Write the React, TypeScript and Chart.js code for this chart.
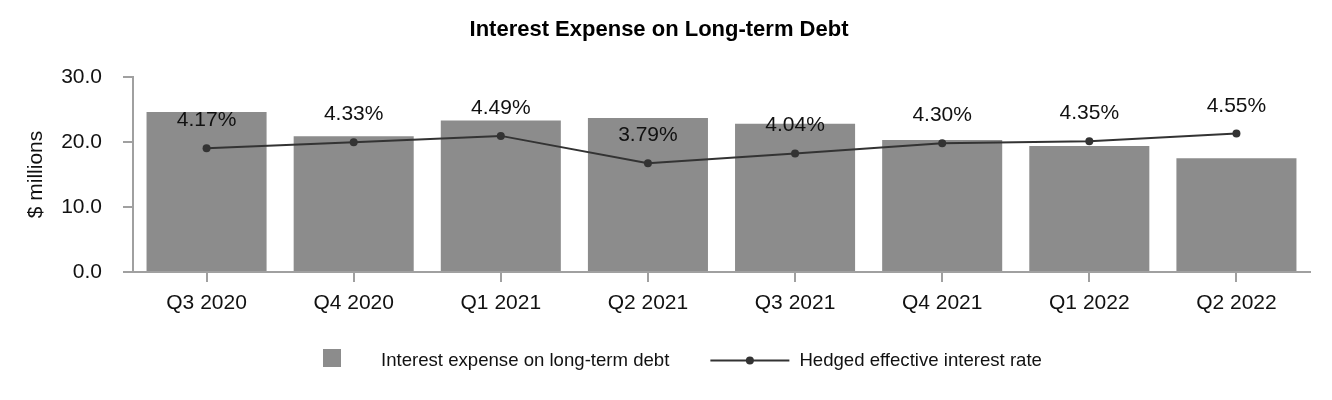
import React, { useEffect, useRef } from "react";
import { Chart, registerables } from "chart.js";

Chart.register(...registerables);

const categories = ["Q3 2020", "Q4 2020", "Q1 2021", "Q2 2021", "Q3 2021", "Q4 2021", "Q1 2022", "Q2 2022"];
const interestExpense = [24.6, 20.9, 23.3, 23.7, 22.8, 20.3, 19.4, 17.5];
const hedgedRate = [4.17, 4.33, 4.49, 3.79, 4.04, 4.3, 4.35, 4.55];
const barLabel = "Interest expense on long-term debt";
const lineLabel = "Hedged effective interest rate";
const chartTitle = "Interest Expense on Long-term Debt";
const yAxisTitle = "$ millions";

const FONT = "'Liberation Sans', Arial, Helvetica, sans-serif";
const BAR_COLOR = "#8c8c8c";
const LINE_COLOR = "#333333";
const AXIS_COLOR = "#a0a0a0";

const labelsPlugin = {
  id: "rateLabels",
  afterDatasetsDraw(chart: any) {
    const ctx = chart.ctx;
    const meta = chart.getDatasetMeta(1);
    ctx.save();
    ctx.font = `21px ${FONT}`;
    ctx.fillStyle = "#111";
    ctx.textAlign = "center";
    ctx.textBaseline = "alphabetic";
    meta.data.forEach((pt: any, i: number) => {
      ctx.fillText(`${hedgedRate[i].toFixed(2)}%`, pt.x, pt.y - 22);
    });
    ctx.restore();
  },
};

const legendPlugin = {
  id: "customLegend",
  afterDraw(chart: any) {
    const ctx = chart.ctx;
    ctx.save();
    ctx.font = `18.6px ${FONT}`;
    const w1 = ctx.measureText(barLabel).width;
    let x = chart.width / 2 - 343;
    const boxTop = chart.height - 43;
    const baseline = boxTop + 17;
    const lineY = boxTop + 11.5;
    ctx.fillStyle = BAR_COLOR;
    ctx.fillRect(x, boxTop, 18, 18);
    x += 18 + 40;
    ctx.fillStyle = "#111";
    ctx.textAlign = "left";
    ctx.textBaseline = "alphabetic";
    ctx.fillText(barLabel, x, baseline);
    x += w1 + 41;
    ctx.strokeStyle = LINE_COLOR;
    ctx.lineWidth = 2;
    ctx.beginPath();
    ctx.moveTo(x, lineY);
    ctx.lineTo(x + 79, lineY);
    ctx.stroke();
    ctx.fillStyle = LINE_COLOR;
    ctx.beginPath();
    ctx.arc(x + 39.5, lineY, 4, 0, Math.PI * 2);
    ctx.fill();
    x += 79 + 10;
    ctx.fillStyle = "#111";
    ctx.fillText(lineLabel, x, baseline);
    ctx.restore();
  },
};

export default function App() {
  const canvasRef = useRef<HTMLCanvasElement | null>(null);

  useEffect(() => {
    if (!canvasRef.current) return;
    Chart.defaults.font.family = FONT;
    const chart = new Chart(canvasRef.current, {
      type: "bar",
      data: {
        labels: categories,
        datasets: [
          {
            type: "bar",
            label: barLabel,
            data: interestExpense,
            backgroundColor: BAR_COLOR,
            borderWidth: 0,
            categoryPercentage: 1,
            barPercentage: 0.816,
            yAxisID: "y",
            order: 1,
          },
          {
            type: "line",
            label: lineLabel,
            data: hedgedRate,
            borderColor: LINE_COLOR,
            backgroundColor: LINE_COLOR,
            borderWidth: 2,
            pointRadius: 4,
            pointBackgroundColor: LINE_COLOR,
            pointBorderWidth: 0,
            tension: 0,
            yAxisID: "y1",
            order: 0,
          } as any,
        ],
      },
      options: {
        animation: false,
        responsive: true,
        maintainAspectRatio: false,
        layout: { padding: { left: 0, right: 14, top: 0, bottom: 78 } },
        plugins: {
          legend: { display: false },
          tooltip: { enabled: false },
          title: {
            display: true,
            text: chartTitle,
            color: "#000",
            font: { size: 22, weight: "bold", family: FONT },
            padding: { top: 9, bottom: 33.6 },
          },
        },
        scales: {
          x: {
            offset: true,
            grid: {
              offset: false,
              drawOnChartArea: false,
              drawTicks: true,
              tickLength: 10,
              color: AXIS_COLOR,
              lineWidth: 2,
            },
            border: { display: true, color: AXIS_COLOR, width: 2 },
            ticks: { color: "#111", font: { size: 21 }, padding: 8.5, maxRotation: 0 },
            afterFit(scale: any) {
              scale.height = 42;
            },
          },
          y: {
            min: 0,
            max: 30,
            ticks: {
              stepSize: 10,
              color: "#111",
              font: { size: 21 },
              padding: 21,
              callback: (v: any) => Number(v).toFixed(1),
            },
            grid: { drawOnChartArea: false, tickLength: 10, color: AXIS_COLOR, lineWidth: 2 },
            border: { display: true, color: AXIS_COLOR, width: 2 },
            title: {
              display: true,
              text: yAxisTitle,
              color: "#111",
              font: { size: 21 },
              padding: { top: 16, bottom: 0 },
            },
            afterFit(scale: any) {
              scale.width = 125;
            },
          },
          y1: {
            display: false,
            min: 1,
            max: 6,
          },
        },
      },
      plugins: [labelsPlugin, legendPlugin],
    });
    return () => chart.destroy();
  }, []);

  return (
    <div style={{ position: "relative", width: "1316px", height: "384px" }}>
      <canvas ref={canvasRef} />
    </div>
  );
}
